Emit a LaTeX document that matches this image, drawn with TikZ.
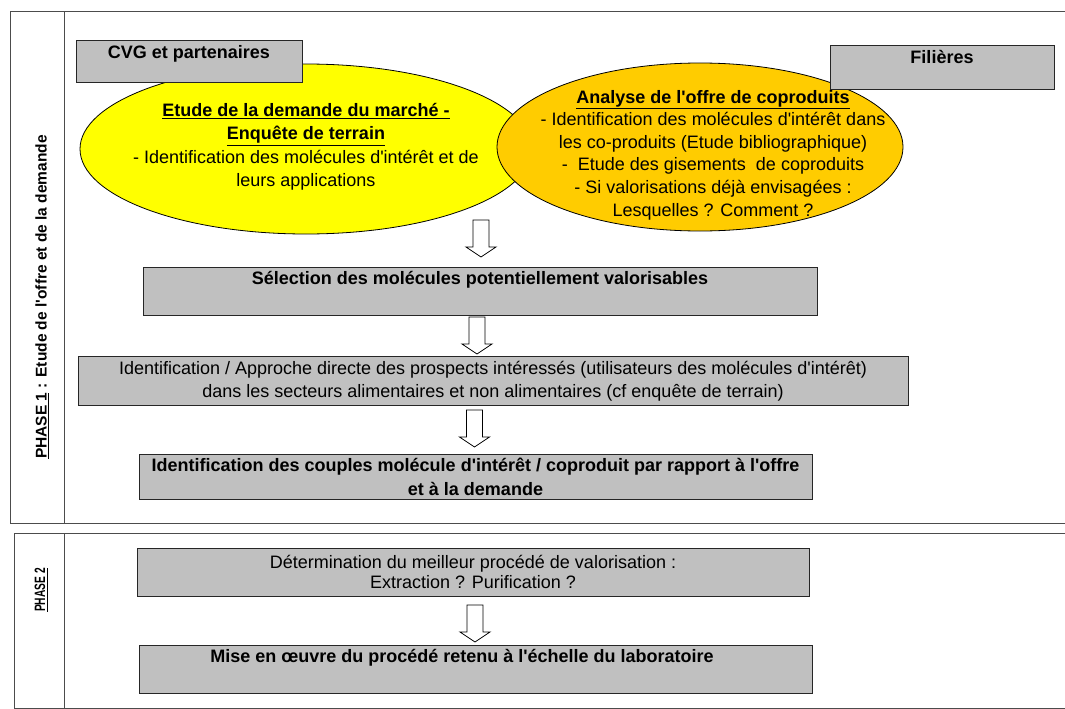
\documentclass[tikz,border=0pt]{standalone}
\usepackage{fontspec}
\usepackage{graphicx}
\setmainfont{Liberation Sans}[Ligatures=TeXOff]
\usetikzlibrary{calc}
\definecolor{boxgray}{HTML}{C0C0C0}
\definecolor{jaune}{HTML}{FFFF00}
\definecolor{orangeclair}{HTML}{FFCC00}
% hollow block arrow pointing down, #1 = top centre of the shaft
\newcommand{\fleche}[1]{%
  \draw[fill=white, line width=0.8pt] ($(#1)+(-8,0)$) -- ($(#1)+(8,0)$) -- ($(#1)+(8,27)$)
    -- ($(#1)+(15,27)$) -- ($(#1)+(0,37)$) -- ($(#1)+(-15,27)$) -- ($(#1)+(-8,27)$) -- cycle;}
\begin{document}
\begin{tikzpicture}[x=1pt,y=-1pt,
  txt/.style={font=\fontsize{18}{24}\selectfont, align=center, inner sep=0pt},
  btxt/.style={font=\fontsize{18}{24}\selectfont\bfseries, align=center, inner sep=0pt},
  grisbox/.style={draw=black!85, fill=boxgray, line width=0.8pt, inner sep=0pt},
  cadre/.style={draw=black!70, line width=1pt}]
\useasboundingbox (0,0) rectangle (1065,709);

% phase frames
\draw[cadre] (10,12) rectangle (1072,523);
\draw[cadre] (64,12) -- (64,523);
\draw[cadre] (14,533) rectangle (1072,708);
\draw[cadre] (64,533) -- (64,708);
\node[rotate=90, font=\fontsize{15.5}{18}\selectfont\bfseries, inner sep=0pt] (phase1) at (42,297)
  {\underline{PHASE 1} : Etude de l'offre et de la demande};
\node[rotate=90, font=\fontsize{15}{18}\selectfont\bfseries, inner sep=0pt] (phase2) at (41,590)
  {\scalebox{0.68}[1]{\underline{PHASE 2}}};

% the two studies
\draw[fill=jaune, line width=0.8pt] (306,149) ellipse [x radius=226, y radius=85];
\node[txt, font=\fontsize{18}{23.5}\selectfont] (demande) at (306,147)
  {\textbf{\underline{Etude de la demande du march\'e -}}\\
   \textbf{\underline{Enqu\^ete de terrain}}\\
   - Identification des mol\'ecules d'int\'er\^et et de\\
   leurs applications};
\draw[fill=orangeclair, line width=0.8pt] (700,147) ellipse [x radius=203, y radius=84];
\node[txt, font=\fontsize{18}{22.6}\selectfont] (offre) at (713,155)
  {\textbf{\underline{Analyse de l'offre de coproduits}}\\
   - Identification des mol\'ecules d'int\'er\^et dans\\
   les co-produits (Etude bibliographique)\\
   -~~Etude des gisements~~de coproduits\\
   - Si valorisations d\'ej\`a envisag\'ees :\\
   Lesquelles ? Comment ?};

\node[grisbox, minimum width=226, minimum height=42] (cvg) at (189,61) {};
\node[btxt] (cvgtxt) at (189,54) {CVG et partenaires};
\node[grisbox, minimum width=224, minimum height=44] (filieres) at (942,67) {};
\node[btxt] (filierestxt) at (942,57) {Fili\`eres};

% phase 1 steps
\node[grisbox, minimum width=674, minimum height=48] (selection) at (480,291) {};
\node[btxt] (selectiontxt) at (480,280) {S\'election des mol\'ecules potentiellement valorisables};
\node[grisbox, minimum width=830, minimum height=49, txt, font=\fontsize{18}{23.5}\selectfont] (prospects) at (493,381)
  {Identification / Approche directe des prospects int\'eress\'es (utilisateurs des mol\'ecules d'int\'er\^et)\\
   dans les secteurs alimentaires et non alimentaires (cf enqu\^ete de terrain)};
\node[grisbox, minimum width=673, minimum height=45, btxt] (couples) at (475.5,477)
  {Identification des couples mol\'ecule d'int\'er\^et / coproduit par rapport \`a l'offre\\
   et \`a la demande};

% phase 2 steps
\node[grisbox, minimum width=672, minimum height=48, txt, font=\fontsize{18}{19.5}\selectfont] (procede) at (473,572)
  {D\'etermination du meilleur proc\'ed\'e de valorisation :\\
   Extraction ? Purification ?};
\node[grisbox, minimum width=673, minimum height=48] (labo) at (475.5,669) {};
\node[btxt] (labotxt) at (462,658) {Mise en \oe uvre du proc\'ed\'e retenu \`a l'\'echelle du laboratoire};

% arrows between the steps
\coordinate (f1) at (481,220);
\coordinate (f2) at (477,317);
\coordinate (f3) at (474.5,410);
\coordinate (f4) at (475,605);
\fleche{f1}
\fleche{f2}
\fleche{f3}
\fleche{f4}
\end{tikzpicture}
\end{document}
